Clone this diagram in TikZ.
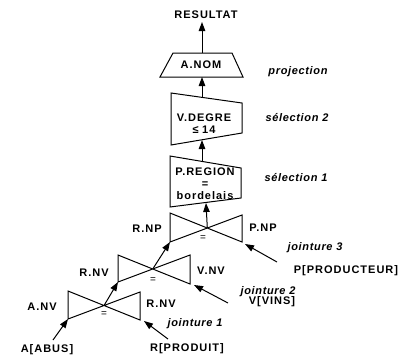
\documentclass[tikz,border=0pt]{standalone}
\usepackage{fontspec}
\setmainfont{Liberation Sans}
\usetikzlibrary{arrows.meta}
\begin{document}
\begin{tikzpicture}[x=1pt,y=-1pt,
  lbl/.style={font=\fontsize{11}{12}\selectfont\bfseries\addfontfeature{LetterSpace=9}, inner sep=0pt, text height=8pt, text depth=0pt},
  cmt/.style={font=\fontsize{11}{12}\selectfont\bfseries\itshape\addfontfeature{LetterSpace=6}, inner sep=0pt, text height=8pt, text depth=0pt},
  eqs/.style={font=\fontsize{10}{11}\selectfont, inner sep=0pt},
  shp/.style={draw, line width=1pt},
  arr/.style={line width=1pt, -{Triangle[length=9pt,width=6.5pt]}},
]
\useasboundingbox (0,0) rectangle (405,357);

% ---------- shapes ----------
% projection (trapezoid)
\draw[shp] (173,53) -- (232,53) -- (243,77) -- (160,77) -- cycle;
% selection 2
\draw[shp] (171,93) -- (242,103) -- (242,133) -- (171,145) -- cycle;
% selection 1
\draw[shp] (170,156) -- (241,168) -- (241,198) -- (170,207) -- cycle;

% bowties: corners
\coordinate (j1lt) at (68,291);  \coordinate (j1lb) at (68,319);
\coordinate (j1rt) at (140,292); \coordinate (j1rb) at (140,320);
\coordinate (j2lt) at (118,255); \coordinate (j2lb) at (118,282);
\coordinate (j2rt) at (190,255); \coordinate (j2rb) at (190,284);
\coordinate (j3lt) at (170,213); \coordinate (j3lb) at (170,242);
\coordinate (j3rt) at (242,215); \coordinate (j3rb) at (242,242);
\draw[shp] (j1lt) -- (j1rb) -- (j1rt) -- (j1lb) -- cycle;
\draw[shp] (j2lt) -- (j2rb) -- (j2rt) -- (j2lb) -- cycle;
\draw[shp] (j3lt) -- (j3rb) -- (j3rt) -- (j3lb) -- cycle;
\coordinate (j1c) at (intersection of j1lt--j1rb and j1lb--j1rt);
\coordinate (j2c) at (intersection of j2lt--j2rb and j2lb--j2rt);
\coordinate (j3c) at (intersection of j3lt--j3rb and j3lb--j3rt);

% ---------- texts ----------
\node[lbl] (res) at (206,14) {RESULTAT};
\node[lbl] (anom) at (201,64) {A.NOM};
\node[lbl] (vdeg) at (204,117) {V.DEGRE};
\node[lbl] (vle) at (204,129) {≤\,\,14};
\node[lbl] (preg) at (205,171) {P.REGION};
\node[lbl] (peq) at (205,183) {=};
\node[lbl] (pbor) at (205,195) {bordelais};

\node[cmt] (cproj) at (298,70) {projection};
\node[cmt] (csel2) at (297,117) {sélection 2};
\node[cmt] (csel1) at (296,177) {sélection 1};

\node[lbl] (rnp) at (147,228) {R.NP};
\node[lbl] (pnp) at (263,227) {P.NP};
\node[eqs] (e3) at (203,238) {=};
\node[cmt] (cj3) at (315,246) {jointure 3};
\node[lbl] (prod) at (346,269) {P[PRODUCTEUR]};

\node[lbl] (rnv2) at (94,272) {R.NV};
\node[lbl] (vnv) at (211,270) {V.NV};
\node[eqs] (e2) at (153,280) {=};
\node[cmt] (cj2) at (268,290) {jointure 2};
\node[lbl] (vins) at (272,300) {V[VINS]};

\node[lbl] (anv) at (42,306) {A.NV};
\node[lbl] (rnv1) at (161,303) {R.NV};
\node[eqs] (e1) at (104,314) {=};
\node[cmt] (cj1) at (195,322) {jointure 1};
\node[lbl] (abus) at (47,348) {A[ABUS]};
\node[lbl] (rprod) at (187,347) {R[PRODUIT]};

% ---------- connector ends ----------
\coordinate (anomtop) at (202,53);
\coordinate (anombot) at (202,77);
\coordinate (vdtop) at (202,97);
\coordinate (vdbot) at (202,140);
\coordinate (prtop) at (202,161);
\coordinate (prbot) at (206,203);
\coordinate (restip) at (202,22);
\coordinate (abustail) at (53,340);
\coordinate (rprodtail) at (168,339);
\coordinate (rprodtip) at (144,321);
\coordinate (vinstail) at (228,303);
\coordinate (vinstip) at (194,285);
\coordinate (prodtail) at (277,262);
\coordinate (prodtip) at (245,244);

% ---------- connectors ----------
\draw[arr] (anomtop) -- (restip);
\draw[arr] (vdtop) -- (anombot);
\draw[arr] (prtop) -- (vdbot);
\draw[arr] (j3c) -- (prbot);
\draw[arr] (j2c) -- (j3lb);
\draw[arr] (j1c) -- (j2lb);
\draw[arr] (abustail) -- (j1lb);
\draw[arr] (rprodtail) -- (rprodtip);
\draw[arr] (vinstail) -- (vinstip);
\draw[arr] (prodtail) -- (prodtip);
\end{tikzpicture}
\end{document}
